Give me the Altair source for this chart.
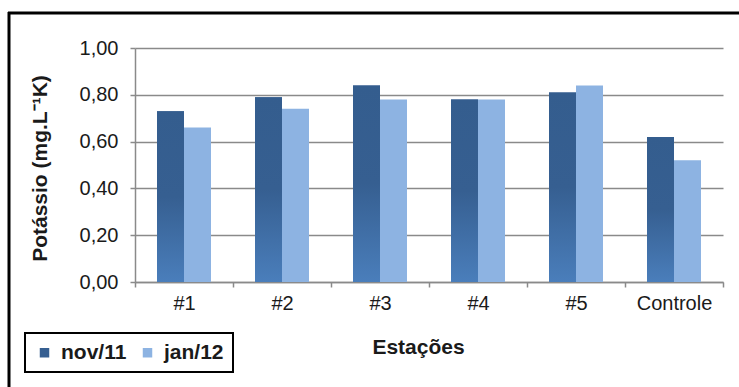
import altair as alt
import pandas as pd

estacoes = ["#1", "#2", "#3", "#4", "#5", "Controle"]
nov11 = [0.73, 0.79, 0.84, 0.78, 0.81, 0.62]
jan12 = [0.66, 0.74, 0.78, 0.78, 0.84, 0.52]
series = ["nov/11", "jan/12"]
colors = ["#365F91", "#8DB3E2"]
yticks = [0, 0.2, 0.4, 0.6, 0.8, 1.0]

rows = []
for i, e in enumerate(estacoes):
    rows.append({"Estação": e, "Série": "nov/11", "valor": nov11[i]})
    rows.append({"Estação": e, "Série": "jan/12", "valor": jan12[i]})
df = pd.DataFrame(rows)

FONT = "Liberation Sans"
GRAY = "#8a8a8a"

x = alt.X(
    "Estação:N",
    sort=estacoes,
    scale=alt.Scale(paddingInner=0, paddingOuter=0),
    axis=alt.Axis(
        title="Estações",
        labelAngle=0,
        grid=False,
        tickBand="extent",
        tickSize=5,
        tickColor=GRAY,
        tickWidth=1.5,
        domainColor=GRAY,
        domainWidth=1.5,
        labelPadding=6,
        labelFontSize=20,
        labelColor="#1a1a1a",
        labelFont=FONT,
        titleFont=FONT,
        titleFontSize=21,
        titleFontWeight="bold",
        titleColor="#1a1a1a",
        titleX=283,
        titleY=71,
        titleAlign="center",
        titleBaseline="alphabetic",
    ),
)
xoff = alt.XOffset(
    "Série:N",
    sort=series,
    scale=alt.Scale(domain=series, paddingInner=0, paddingOuter=0.815),
)
y = alt.Y(
    "valor:Q",
    scale=alt.Scale(domain=[0, 1], nice=False),
    axis=alt.Axis(
        title="Potássio (mg.L⁻¹K)",
        values=yticks,
        labelExpr="replace(format(datum.value, '.2f'), '.', ',')",
        grid=True,
        gridColor=GRAY,
        gridWidth=1.5,
        tickSize=5,
        tickColor=GRAY,
        tickWidth=1.5,
        domainColor=GRAY,
        domainWidth=1.5,
        labelPadding=12,
        labelFontSize=20,
        labelColor="#1a1a1a",
        labelFont=FONT,
        titleFont=FONT,
        titleFontSize=21,
        titleFontWeight="bold",
        titleColor="#1a1a1a",
        titleX=-95,
        titleY=120,
        titleAngle=270,
        titleAlign="center",
        titleBaseline="middle",
    ),
)

bars = alt.Chart(df).mark_bar().encode(
    x=x,
    xOffset=xoff,
    y=y,
    color=alt.Color(
        "Série:N",
        sort=series,
        scale=alt.Scale(domain=series, range=colors),
        legend=alt.Legend(
            title=None,
            orient="none",
            legendX=-110,
            legendY=285,
            direction="horizontal",
            strokeColor="black",
            padding=9,
            symbolType="square",
            symbolSize=90,
            symbolStrokeWidth=0,
            labelFontSize=21,
            labelFontWeight="bold",
            labelFont=FONT,
            labelColor="#1a1a1a",
            labelOffset=6,
            columnPadding=10,
        ),
    ),
)

grad = alt.Gradient(
    gradient="linear",
    stops=[
        alt.GradientStop(color="#345D8E", offset=0),
        alt.GradientStop(color="#365F91", offset=0.5),
        alt.GradientStop(color="#4A7EBB", offset=1),
    ],
    x1=0, x2=0, y1=0, y2=1,
)

nov_bars = alt.Chart(df).transform_filter(
    alt.datum["Série"] == "nov/11"
).mark_bar(fill=grad).encode(x=x, xOffset=xoff, y=y)

one = pd.DataFrame({"k": [0]})
top_border = alt.Chart(one).mark_rule(color="black", strokeWidth=3).encode(
    x=alt.value(-127), x2=alt.value(620), y=alt.value(-35)
)
left_border = alt.Chart(one).mark_rule(color="black", strokeWidth=3).encode(
    x=alt.value(-126), y=alt.value(-36), y2=alt.value(360)
)

chart = alt.layer(bars, nov_bars, top_border, left_border).properties(
    width=588,
    height=234,
    autosize=alt.AutoSizeParams(type="none"),
    padding={"left": 135, "top": 48, "right": 16, "bottom": 105},
    background="white",
).configure_view(stroke=None).configure_legend(strokeWidth=2)

chart.save("out.html", embed_options={"renderer": "svg", "actions": False})
